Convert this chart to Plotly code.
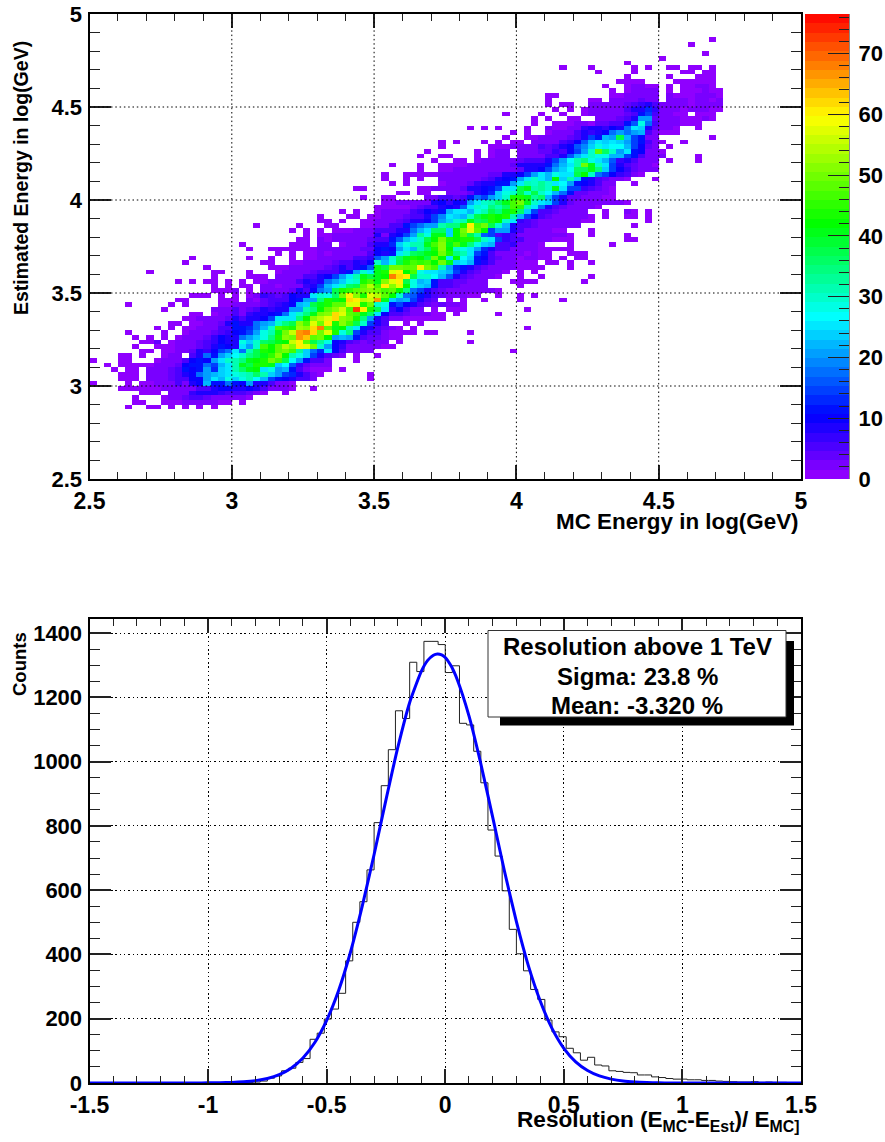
import numpy as np
import plotly.graph_objects as go

W, H = 885, 1142
FONT = "Liberation Sans"

# ---------- top panel: 2D counts, 100 x 100 bins over 2.5..5 on both axes ----------
N_BINS_2D = 100
COUNT_MAX = 76.5
# entries: (row index, first column index, counts)
HEAT_ROWS = [
 (15,5,[1,0,0,1,1,0,1,0,1,0,1,0,1]),
 (16,6,[1,1,0,0,1,1,1,2,2,2,2,2,1,1,0,1]),
 (17,6,[1,0,0,0,1,2,2,4,5,5,4,3,3,3,2,2,1]),
 (18,7,[1,1,1,0,2,2,2,7,8,8,8,7,6,5,5,4,2,1,0,0,1]),
 (19,4,[1,1,1,1,1,1,2,2,2,3,3,5,5,9,10,10,8,9,10,8,5,3,3,2,1,0,0,1]),
 (20,0,[1,0,0,0,0,1,0,1,1,2,2,3,5,2,9,10,22,11,12,17,11,10,20,8,8,5,3,3,1]),
 (21,4,[1,1,1,0,2,2,3,4,6,5]),(21,14,[10,10,20,26,22,28,24,28,31,27,22,14,12,10,8,6,5,3]),(21,39,[1]),
 (22,4,[1,1,1,0,2,2,2,4,5,9,10,18,20,22,24,26,28,30,31,36,32,23,21,15,13,9,5,3,1]),(22,39,[1]),
 (23,3,[1,0,1,1,0,2,2,3,4,6,11,10,12,20,13,24,26,32,36,40,42,26,28,20,22,12,6,3,1,1,1,0,1]),
 (24,2,[1,0,1,1,1,1,1,2,3,3,4,10,12,11,18,14,22,25,31,40,38,43,44,40,24,27,16,7,4,2,2,2]),
 (25,0,[1]),(25,4,[1,1,0,0,0,1,2,2,3,6,10,12,10,20,25,30,31,34,40,42,43,50,47,38,27,20,12,6,5,3,0,0,0,1]),
 (26,4,[1,1,0,1,0,0,1,2,2,0,6,8,18,12,20,24,27,30,35,38,40,45,52,42,32,28,24,15,8,6,4,2,0,1,0,0,1]),
 (27,7,[1,1,0,1,1,2,3,4,9,7,10,14,18,26,18,31,38,44,42,48,50,46,33,24,17,13,26,10,6,3,2,2,2]),(27,59,[1]),
 (28,6,[1,0,0,1,1,1,2,3,3,4,5,9,11,10,8,25,20,30,46,42,48,55,52,60,58,50,30,20,10,7,3,3,2,3,2,1,1]),
 (29,7,[1,1,4,0,1,2,3,3,4,5,7,10,9,8,28,24,30,36,38,40,42,56,60,48,38,33,28,10,9,5,4,3,4,3,2]),(29,43,[1]),(29,53,[1]),
 (30,6,[1,0,1,0,1,0,1,2,2,3,4,7,10,9,9,17,21,24,28,35,44,52,50,66,64,48,50,42,20,22,20,12,6,4,4,3]),(30,42,[1,1]),
 (31,5,[1,0,0,0,0,1,0,0,1,2,2,3,4,6,7,10,12,14,20,28,32,40,50,56,66,68,62,50,58,44,28,35,14,8,6,5,3]),(31,42,[1,1,1,1,0,1,1]),(31,53,[1]),
 (32,9,[1,0,1,0,1,1,2,3,3,5,6,12,12,13,18,22,30,46,45,43,53,52,62,68,48,40,42,32,26,12,9,6,4]),(32,42,[2,1,0,1]),(32,61,[1]),
 (33,11,[1,1,0,1,1,2,3,4,8,11,9,9,18,20,22,30,35,38,52,46,58,50,60,44,52,46,38,30,15,9,5]),(33,44,[1,0,1]),
 (34,13,[1,1,2,2,3,2,4,9,6,9,9,10,14,26,26,26,34,42,52,55,58,62,52,50,44,34,20,8,5]),(34,42,[2,2,1,1,1,1,1,1]),
 (35,14,[1,1,0,1,2,2,5,3,7,8,9,10,12,18,26,30,34,40,50,52,62,58,48,46,40,36,26,10]),(35,42,[5,5,4,2,2,2,1,1,0,1]),(35,57,[1]),
 (36,10,[1,0,0,0,0,0,0,2,2,2,5,3,4,5,8,7,9,9,20,21,32,34,42,48,52,56,46,72,60,44,38,25]),(36,42,[7,10,6,3,2,0,1,0,1,1,1]),(36,61,[1]),
 (37,5,[1,0,0,0,0,0,1,0,1,0,0,0,0,1,1,3,2,3,3,4,5,7,9,10,22,24,38,40,44,48,48,58,58,44,50,30,28]),(37,42,[12,14,10,8,6,4,3,4,3,2,1]),
 (38,12,[1,1,0,0,0,0,1,1,1,0,2,1,4,5,5,6,10,12,21,20,34,44,40,42,62,60,54,56,66,40]),(38,42,[24,20,22,15,8,5,4,0,1,0,1,0,0,1]),(38,60,[1]),(38,66,[1]),
 (39,14,[1,1,1,0,1,0,1,0,1,2,7,5,4,6,10,9,9,25,30,28,36,50,60,52,44,58,55,48]),(39,42,[42,30,18,16,12,8,6,4,3,3,2,1,1,0,0,1,0,0,1,0,1]),
 (40,17,[1,1,1,2,0,1,0,2,2,3,3,4,8,6,10,18,20,38,44,45,48,50,52,50,46]),(40,42,[48,42,34,18,14,8,6,4,3,3,3,2,2,2,2,1]),
 (41,17,[1,0,1,0,1,1,0,2,2,1,2,3,3,7,8,14,22,25,30,36,38,48,54,46,60]),(41,42,[52,58,42,28,24,22,12,6,5,4,3,3,3,2,0,0,0,0,1]),
 (42,12,[1,0,1,0,1,1,0,1,0,1,0,1,1,2,2,2,3,5,9,7,9,17,20,24,28,30,44,46,40,52]),(42,42,[58,60,38,28,22,24,12,6,5,4,4,3,3,3]),(42,59,[1,1,1,1]),(42,69,[1]),
 (43,17,[1,0,0,0,0,1,1,1,0,2,2,2,3,5,6,8,10,15,20,25,32,40,38,40,42]),(43,42,[68,62,60,38,30,30,27,22,16,8,6,4,3,3,2]),(43,57,[1]),(43,60,[1]),(43,63,[1]),(43,70,[1]),
 (44,8,[1,0,0,0,0,0,0,0,0,1,1,0,0,0,1,0,0,0,1,2,2,2,3,4,5,5,6,9,12,20,30,26,40,44]),(44,42,[58,60,42,46,28,26,26,24,22,14,8,5,4,3,3,2,1]),(44,60,[1]),(44,62,[1]),
 (45,16,[1,0,0,0,0,0,0,0,0,1,1,1,2,2,2,3,3,4,5,8,6,8,12,16,40,38]),(45,42,[50,50,48,48,60,50,46,32,20,13,11,8,6,4,3,2,2,2,1,1,1,1]),(45,67,[1]),
 (46,13,[1]),(46,24,[1,1,0,0,1,1,2,2,3,3,4,5,5,8,7,10,30,22]),(46,42,[28,38,44,46,45,46,42,50,40,24,26,22,11,8,5,3,2,2,1,1,1]),(46,64,[1,1]),(46,67,[1]),(46,70,[1]),
 (47,14,[1]),(47,22,[1]),(47,25,[1]),(47,28,[1,0,1,1,2,2,3,3,3,5,5,7,16,20]),(47,42,[30,36,40,44,42,38,50,42,26,42,27,23,12,10,6,4,3,2,1,2,2,1]),(47,64,[1]),(47,66,[1]),(47,68,[1,1]),
 (48,26,[1,0,1,0,1,1,2,1,2,2,3,2,3,5,10,9]),(48,42,[12,26,30,36,38,40,42,50,44,34,32,26,14,12,5,3,3,2,2,1,2,1,1]),(48,67,[1,1,1]),
 (49,22,[1]),(49,25,[1,1,1,1,1,1,1,2,2,2,2,3,3,4,4,10,11]),(49,42,[10,20,26,22,32,36,44,52,42,30,28,26,20,13,9,6,5,3,3,2,2,1,1,1,1,1]),
 (50,21,[1]),(50,28,[1,1,1,0,2,2,0,1,2,2,3,5,8,8]),(50,42,[13,24,28,32,32,40,46,52,40,46,40,34,28,24,22,6,5,7,3,2,2,1]),(50,67,[1]),(50,73,[1]),
 (51,29,[1,1,0,2,1,2,2,3,3,3,4,5,5]),(51,42,[12,16,22,26,30,38,42,50,44,42,44,44,38,30,26,14,7,6,5,3,3,2,2,1,1]),(51,67,[1]),(51,75,[1,1]),
 (52,30,[1,0,1,1,2,2,3,3,2,3,8,3]),(52,42,[8,10,15,20,33,28,40,40,24,42,48,38,32,16,14,6,7,5,3,3,2,2,2,2,2,1]),(52,70,[1]),(52,75,[1]),
 (53,28,[1,0,1,0,1,0,1,1,1,2,3,3,6,5]),(53,42,[6,8,9,18,22,26,36,36,24,42,50,58,48,42,15,20,20,8,5,3,3,2,2,1,1]),(53,70,[1]),
 (54,23,[1]),(54,29,[1]),(54,33,[1,1]),(54,38,[1,1,2,2]),(54,42,[5,5,11,15,17,20,20,32,34,35,44,60,46,50,38,30,22,9,5,6,4,3,3,2,2,2,2]),(54,76,[1]),
 (55,32,[1,1,0,1]),(55,38,[1,1,2,2]),(55,42,[2,4,6,8,9,10,15,21,24,30,32,40,36,38,44,42,30,26,7,5,4,3,3,3,2,2,2,1]),(55,70,[1]),(55,78,[1]),
 (56,32,[1]),(56,36,[1,1]),(56,39,[1,1,2]),(56,42,[2,3,4,5,6,8,15,19,25,24,22,30,37,40,44,42,44,32,22,14,10,5,4,3,3,3,2,2,1]),(56,72,[1]),(56,75,[1,1]),(56,78,[1]),
 (57,35,[1]),(57,37,[1]),(57,40,[1,2]),(57,42,[2,3,3,5,7,10,9,12,22,26,26,22,28,32,38,34,40,44,36,23,14,6,5,4,3,3,3,2]),(57,72,[1]),(57,75,[2,1]),(57,78,[1]),
 (58,40,[1,1]),(58,42,[1,1,1,2,4,5,5,8,10,8,16,26,30,28,34,32,36,46,45,32,25,18,9,5,4,3,3,2,2,1]),
 (59,41,[1]),(59,42,[1,2,2,2,3,3,8,10,7,10,8,20,26,30,32,36,40,46,50,40,30,26,24,14,9,4,3,3,3,2,2,2,2,1]),
 (60,38,[1]),(60,41,[1,1,0,0,0,0,2,3,5,5,4,6,12,17,14,20,24,30,44,44,40,33,36,22,14,8,4,4,3,3,2,1,1]),
 (61,43,[1,1,0,1,1,0,0,2,2,3,4,8,10,13,24,28,30,38,30,38,30,27,22,18,12,4,4,3,3,2,1]),
 (62,37,[1,1]),(62,46,[1,1,2,2,2,3,4,8,9,10,12,14,26,26,38,40,32,33,30,40,26,15,14,7,5,4,3,1]),
 (63,42,[1]),(63,44,[1]),(63,49,[1,2,2,3,4,7,9,9,11,12,20,26,32,30,33,30,25,27,20,12,10,8,5,3,2]),(63,76,[1]),
 (64,41,[1]),(64,44,[1]),(64,46,[1]),(64,49,[2,2,2,3,3,3,4,5,9,10,11,20,26,30,25,22,42,24,32,24,12,9,6,4,3,2,1]),(64,79,[1]),
 (65,41,[1]),(65,44,[1,1,1,1,1,2,2,2,2,2,3,3,4,4,8,8,10,14,20,26,22,28,26,26,38,42,30,18,14,10,7,5,3,1]),
 (66,46,[1]),(66,49,[1,1,2,2,2,2,2,2,3,3,3,4,8,9,10,14,20,24,27,36,36,40,34,24,14,10,7,4,3,2,2]),
 (67,42,[1]),(67,46,[1]),(67,49,[1,1,1,1,2,2,3,2,3,3,4,8,8,9,9,11,18,22,26,32,50,40,30,26,14,9,6,4,2,2,1]),
 (68,48,[1,0,0,1,1,0,1,2,2,3,3,3,4,6,6,5,9,14,20,27,32,34,28,25,22,16,7,9,5,3,3,3]),(68,81,[1]),(68,85,[1]),
 (69,46,[1]),(69,49,[1,1]),(69,54,[1,0,1,2,2,0]),(69,60,[3,3,3,3,5,6,9,16,22,26,30,28,28,22,22,14,11,5,2,3,2]),(69,85,[1]),
 (70,47,[1]),(70,54,[1,0,1,2,2,0]),(70,60,[2,3,3,4,4,7,6,10,14,20,30,48,36,30,20,26,12,10,3,2,1]),
 (71,49,[1]),(71,56,[1,1,1,2,2,2,2,5,4,5,9,10,16,19,24,28,26,27,27,22,14,10,4,3,0,1]),
 (72,49,[1,0,1]),(72,55,[1,0,1,0,1,1,0,2,2,2,3,5,7,10,16,22,26,24,26,24,20,14,12,5,3,1,0,0,1]),
 (73,58,[1]),(73,61,[1,1,2,2,2,3,4,5,8,14,12,22,20,38,22,14,12,3,2]),(73,87,[1]),
 (74,59,[1,0,1]),(74,64,[1,2,2,3,5,8,7,8,10,18,20,18,20,22,6,3,1,1,1]),
 (75,53,[1,0,1,0,1]),(75,61,[1]),(75,64,[2,1,1,2,3,7,9,8,7,10,9,18,26,24,8,4,2,2,1]),(75,85,[1]),
 (76,62,[1]),(76,65,[1,1,1,2,2,1,4,4,5,6,12,16,28,18,5,3,3,2,1,1,1]),
 (77,62,[1,0,1,0,0,1,1,0,0,2,2,3,4,5,8,20,20,4,3,2,2,1,1,1,2,1]),
 (78,58,[1]),(78,63,[1]),(78,66,[1]),(78,69,[1,2,2,2,2,3,4,6,12,15,6,2,2,1,1,0,1,1,1]),
 (79,65,[1,0,1,0,1,2,2,3,2,3,5,8,8,13,7,2,2,2,1,2,2,2,1,1]),
 (80,64,[1,0,1,1,0,0,3,3,2,2,3,4,6,7,8,5,2,2,2,2,1,2,2,2,2]),
 (81,64,[1]),(81,70,[1,1,0,2,2,3,3,4,3,2,0,2,2,2,1,2,2,1,2]),
 (82,64,[1,1]),(82,73,[1,1,2,2,3,2,2,0,2,1,1,1,3,2,2,1]),
 (83,73,[1,0,1,2,2,2,2]),(83,81,[1]),(83,83,[1,1,1,2,1,1]),
 (84,72,[1]),(84,75,[1,2,2,1,1]),(84,81,[1]),(84,83,[1,1,2,2,1]),
 (85,74,[1,1,1,1]),(85,82,[1,1,1,1,1,1]),
 (86,75,[1]),(86,81,[1]),(86,85,[1,1,1]),
 (87,71,[1]),(87,76,[1]),(87,83,[1,1]),(87,86,[1,1]),
 (88,66,[1]),(88,70,[1]),(88,76,[1]),(88,78,[1]),(88,81,[1,1]),(88,84,[1,1]),(88,87,[1]),
 (89,75,[1]),(90,80,[1]),(91,86,[1]),(93,84,[1]),(94,87,[1]),
]

# ---------- bottom panel: 100 bins over -1.5..1.5 ----------
N_BINS_1D = 100
HIST_COUNTS = [
 0,0,0,0,0,0,0,0,0,0, 0,0,0,0,0,0,0,0,0,0,
 0,1,2,3,6,15,22,38,46,64, 76,136,155,199,230,279,380,500,564,663,
 810,925,1037,1158,1134,1309,1280,1374,1374,1364, 1277,1298,1119,1114,1032,934,787,706,598,478,
 402,349,291,260,196,159,144,108,94,71, 80,56,53,38,36,33,32,25,25,19,
 17,14,12,12,10,10,8,8,6,5, 4,3,3,4,2,3,2,2,1,1,
]
FIT_X = [-1.5,-1.25,-1.05,-1.0,-0.95,-0.9,-0.85,-0.8,-0.75,-0.7,-0.65,-0.6,-0.55,-0.5,-0.45,-0.4,-0.35,-0.3,-0.25,-0.2,
         -0.15,-0.1,-0.075,-0.05,-0.033,-0.015,0.0,0.025,0.05,0.1,0.15,0.2,0.25,0.3,0.35,0.4,0.45,0.5,0.55,0.6,0.65,0.7,0.75,0.8,0.85,0.9,0.95,1.0,1.25,1.5]
FIT_Y = [0,0,0,0.4,0.8,1.7,3.7,7.4,14,26,46,78,126,195,287,406,550,711,881,1044,
         1184,1282,1314,1331,1335,1332,1324,1297,1256,1142,993,827,658,502,366,256,170,108,66,39,22,12,6,3,1.4,0.6,0.2,0.1,0,0]

# ---------- tick labels and text ----------
TOP_TICKS = [2.5, 3, 3.5, 4, 4.5, 5]
TOP_LABELS = ["2.5", "3", "3.5", "4", "4.5", "5"]
BAR_TICKS = [0, 10, 20, 30, 40, 50, 60, 70]
BOT_X_TICKS = [-1.5, -1, -0.5, 0, 0.5, 1, 1.5]
BOT_X_LABELS = ["-1.5", "-1", "-0.5", "0", "0.5", "1", "1.5"]
BOT_Y_TICKS = [0, 200, 400, 600, 800, 1000, 1200, 1400]
LEGEND_LINES = ["Resolution above 1 TeV", "Sigma: 23.8 %", "Mean: -3.320 %"]

# ---------- colour palette (50 bands, purple -> red) ----------
STOPS = [(0, (155, 0, 255)), (10.5, (0, 0, 255)), (26.7, (0, 255, 255)),
         (42, (0, 255, 0)), (59.5, (255, 255, 0)), (COUNT_MAX, (255, 0, 0))]
N_BANDS = 50
sv = [s[0] for s in STOPS]
def band_color(v):
    return "rgb(%d,%d,%d)" % tuple(np.interp(v, sv, [s[1][c] for s in STOPS]) for c in range(3))
colorscale = []
for k in range(N_BANDS):
    c = band_color((k + 0.5) / N_BANDS * COUNT_MAX)
    colorscale += [[k / N_BANDS, c], [(k + 1) / N_BANDS, c]]

# ---------- assemble matrix ----------
z = [[None] * N_BINS_2D for _ in range(N_BINS_2D)]
for j, i0, vals in HEAT_ROWS:
    for k, v in enumerate(vals):
        if v > 0 and i0 + k < N_BINS_2D:
            z[j][i0 + k] = v
cell = 2.5 / N_BINS_2D
axis_vals = 2.5 + cell * (np.arange(N_BINS_2D) + 0.5)

def fx(px): return px / W
def fy(py): return 1 - py / H

fig = go.Figure()
fig.add_trace(go.Heatmap(z=z, x=axis_vals, y=axis_vals, zmin=0, zmax=COUNT_MAX, colorscale=colorscale,
                         showscale=False, xaxis="x", yaxis="y", hoverongaps=False))
band_edges = np.linspace(0, COUNT_MAX, N_BANDS + 1)
band_mid = (band_edges[:-1] + band_edges[1:]) / 2
fig.add_trace(go.Heatmap(z=[[v] for v in band_mid], x=[0], y=band_mid, zmin=0, zmax=COUNT_MAX,
                         colorscale=colorscale, showscale=False, xaxis="x3", yaxis="y3"))
edges = -1.5 + 3.0 / N_BINS_1D * np.arange(N_BINS_1D + 1)
fig.add_trace(go.Scatter(x=edges, y=HIST_COUNTS + HIST_COUNTS[-1:], mode="lines", line=dict(color="#222", width=1, shape="hv"),
                         xaxis="x2", yaxis="y2", showlegend=False))
fig.add_trace(go.Scatter(x=FIT_X, y=FIT_Y, mode="lines", line=dict(color="#0000ff", width=3, shape="spline", smoothing=0.6),
                         xaxis="x2", yaxis="y2", showlegend=False))

tickfont = dict(family=FONT, size=22, color="black", weight=700)
xtickfont = dict(family=FONT, size=23, color="black", weight=700)
def axis(domain, anchor, rng, vals, text, ticklen, mticklen, mdtick, standoff, font):
    return dict(domain=domain, anchor=anchor, range=rng, tickmode="array", tickvals=vals, ticktext=text,
                ticks="inside", ticklen=ticklen, tickwidth=1.5, tickcolor="#222", automargin=False,
                minor=dict(ticks="inside", ticklen=mticklen, tickwidth=1.2, tickcolor="#222", dtick=mdtick, tick0=vals[0]),
                showline=True, linewidth=2, linecolor="black", mirror="allticks", zeroline=False,
                tickfont=font, ticklabelstandoff=standoff, layer="above traces")

TOP_Y = (14, 479); BOT_Y = (619, 1083); PX = (89.5, 801)
dx = [fx(PX[0]), fx(PX[1])]
grid = dict(showgrid=True, gridcolor="black", griddash="1.5px,2.8px", gridwidth=1)

xa = axis(dx, "y", [2.5, 5], TOP_TICKS, TOP_LABELS, 14, 7, 0.1, 0, xtickfont); xa.update(showgrid=False)
ya = axis([fy(TOP_Y[1]), fy(TOP_Y[0])], "x", [2.5, 5], TOP_TICKS, TOP_LABELS, 21, 10, 0.1, 1, tickfont); ya.update(showgrid=False)
x2a = axis(dx, "y2", [-1.5, 1.5], BOT_X_TICKS, BOT_X_LABELS, 14, 7, 0.1, 0, xtickfont); x2a.update(grid)
y2top = (BOT_Y[1] - BOT_Y[0]) / (BOT_Y[1] - 633) * 1400
y2a = axis([fy(BOT_Y[1]), fy(BOT_Y[0])], "x2", [0, y2top], BOT_Y_TICKS, [str(v) for v in BOT_Y_TICKS], 21, 10, 50, 1, tickfont); y2a.update(grid)
x3a = dict(domain=[fx(805), fx(849)], anchor="y3", visible=False, range=[-0.5, 0.5], automargin=False)
y3a = dict(domain=[fy(TOP_Y[1]), fy(TOP_Y[0])], anchor="x3", side="right", range=[0, COUNT_MAX], tickmode="array", automargin=False,
           tickvals=BAR_TICKS, ticktext=[str(v) for v in BAR_TICKS], ticks="inside", ticklen=21, tickwidth=1.2, tickcolor="#222",
           minor=dict(ticks="inside", ticklen=10, tickwidth=1.2, tickcolor="#222", dtick=2, tick0=0),
           showline=True, linewidth=1, linecolor="#888", tickfont=tickfont, showgrid=False, zeroline=False, layer="above traces",
           ticklabelstandoff=4)

shapes = []
# dotted grid painted over the top panel's cells
for v in TOP_TICKS[1:-1]:
    for ref in (dict(type="line", xref="x", yref="y", x0=v, x1=v, y0=2.5, y1=5),
                dict(type="line", xref="x", yref="y", x0=2.5, x1=5, y0=v, y1=v)):
        shapes.append(dict(layer="above", line=dict(color="black", width=1, dash="1.5px,2.8px"), **ref))
# result box with its shadow
paper = dict(type="rect", xref="paper", yref="paper", layer="above")
shapes.append(dict(x0=fx(500), x1=fx(794), y0=fy(725.5), y1=fy(641), fillcolor="black", line=dict(width=0), **paper))
shapes.append(dict(x0=fx(488), x1=fx(786), y0=fy(717), y1=fy(630.5), fillcolor="white", line=dict(color="#333", width=1), **paper))

def note(text, px, py, size, anchor="center", angle=0):
    return dict(text=text, x=fx(px), y=fy(py), xref="paper", yref="paper", showarrow=False, textangle=angle,
                xanchor=anchor, yanchor="middle", font=dict(family=FONT, size=size, color="black", weight=700))

annotations = [
    note("MC Energy in log(GeV)", 801, 521, 22.4, "right"),
    note("Estimated Energy in log(GeV)", 21, 178, 19.5, angle=-90),
    note("Counts", 19, 664, 18.5, angle=-90),
    note("Resolution (E<sub>MC</sub>-E<sub>Est</sub>)/ E<sub>MC]</sub>", 801, 1121, 22.6, "right"),
    note(LEGEND_LINES[0], 637, 646, 24),
    note(LEGEND_LINES[1], 637, 676, 24),
    note(LEGEND_LINES[2], 637, 705, 24),
]

fig.update_layout(width=W, height=H, margin=dict(l=0, r=0, t=0, b=0), autosize=False,
                  paper_bgcolor="white", plot_bgcolor="white", showlegend=False,
                  xaxis=xa, yaxis=ya, xaxis2=x2a, yaxis2=y2a, xaxis3=x3a, yaxis3=y3a,
                  shapes=shapes, annotations=annotations)
fig.write_html("out.html", config=dict(displayModeBar=False),
               post_script="document.body.style.margin='0';document.body.style.overflow='hidden';")
